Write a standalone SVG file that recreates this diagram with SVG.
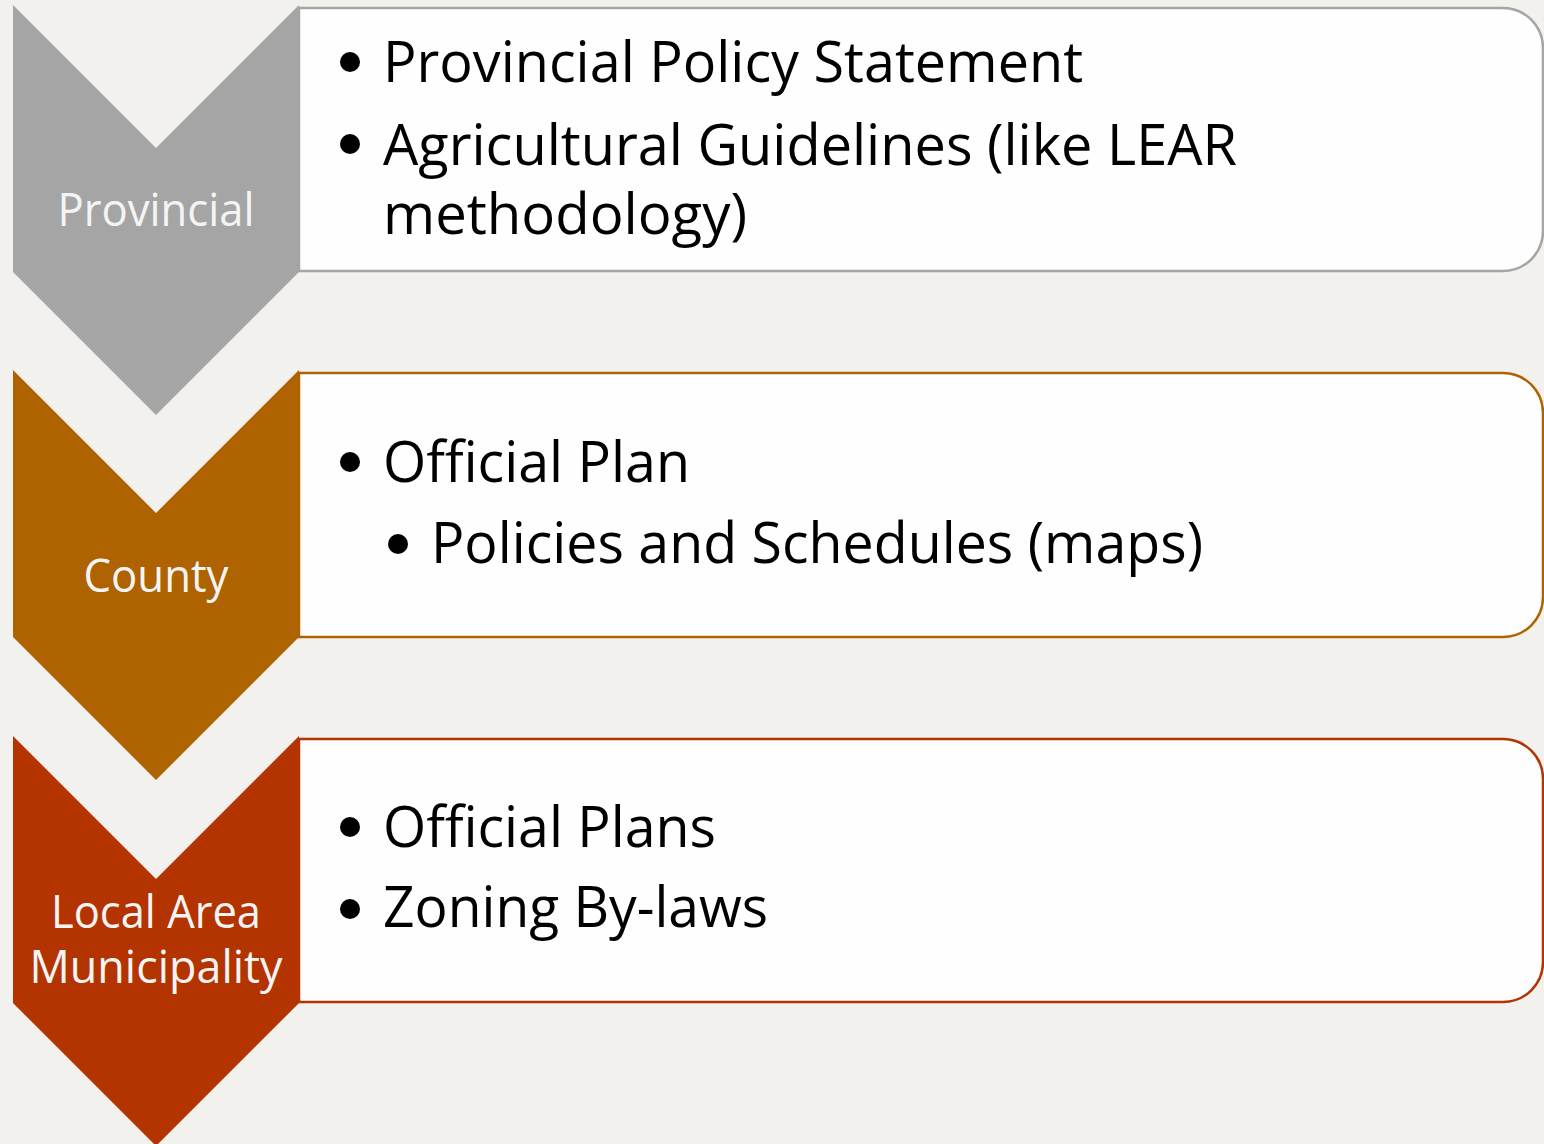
<svg xmlns="http://www.w3.org/2000/svg" width="1544" height="1144" viewBox="0 0 1544 1144">
<style>
.lbl{font-family:"Open Sans","Noto Sans",sans-serif;font-size:45px;fill:#f4f4f4;text-anchor:middle}
.txt{font-family:"Open Sans","Noto Sans",sans-serif;font-size:56px;fill:#000}
.box{fill:#fefefe;stroke-width:2.5}
.dot{fill:#000}
</style>
<rect width="1544" height="1144" fill="#f2f1ee"/>
<g id="provincial">
<polygon points="13,5 156,148 299,5 299,272 156,415 13,272" fill="#a5a5a5"/>
<path class="box" stroke="#a5a5a5" d="M299,8 H1503 A40,40 0 0 1 1543,48 V231 A40,40 0 0 1 1503,271 H299 Z"/>
<text class="lbl" x="156" y="226" textLength="197" lengthAdjust="spacingAndGlyphs">Provincial</text>
<circle class="dot" cx="350" cy="62" r="10"/>
<text class="txt" x="383" y="82" textLength="700" lengthAdjust="spacingAndGlyphs">Provincial Policy Statement</text>
<circle class="dot" cx="350" cy="144" r="10"/>
<text class="txt" x="383" y="165" textLength="854" lengthAdjust="spacingAndGlyphs">Agricultural Guidelines (like LEAR</text>
<text class="txt" x="383" y="234" textLength="364" lengthAdjust="spacingAndGlyphs">methodology)</text>
</g>
<g id="county">
<polygon points="13,370 156,513 299,370 299,637 156,780 13,637" fill="#ae6300"/>
<path class="box" stroke="#ae6300" d="M299,373 H1503 A40,40 0 0 1 1543,413 V597 A40,40 0 0 1 1503,637 H299 Z"/>
<text class="lbl" x="156" y="592" textLength="145" lengthAdjust="spacingAndGlyphs">County</text>
<circle class="dot" cx="350" cy="462" r="10"/>
<text class="txt" x="383" y="482" textLength="307" lengthAdjust="spacingAndGlyphs">Official Plan</text>
<circle class="dot" cx="398" cy="544" r="10"/>
<text class="txt" x="431" y="563" textLength="772" lengthAdjust="spacingAndGlyphs">Policies and Schedules (maps)</text>
</g>
<g id="local">
<polygon points="13,736 156,879 299,736 299,1003 156,1146 13,1003" fill="#b33400"/>
<path class="box" stroke="#b33400" d="M299,739 H1503 A40,40 0 0 1 1543,779 V962 A40,40 0 0 1 1503,1002 H299 Z"/>
<text class="lbl" x="156" y="928" textLength="210" lengthAdjust="spacingAndGlyphs">Local Area</text>
<text class="lbl" x="156" y="983" textLength="253" lengthAdjust="spacingAndGlyphs">Municipality</text>
<circle class="dot" cx="350" cy="827" r="10"/>
<text class="txt" x="383" y="847" textLength="333" lengthAdjust="spacingAndGlyphs">Official Plans</text>
<circle class="dot" cx="350" cy="909" r="10"/>
<text class="txt" x="383" y="927" textLength="385" lengthAdjust="spacingAndGlyphs">Zoning By-laws</text>
</g>
<g id="connectors"/>
</svg>
